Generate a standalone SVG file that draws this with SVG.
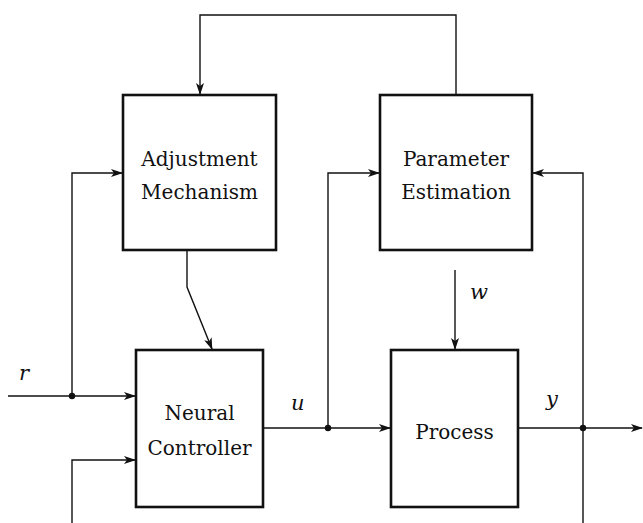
<svg xmlns="http://www.w3.org/2000/svg" width="643" height="523" viewBox="0 0 643 523">
<style>
.box{fill:#fff;stroke:#111;stroke-width:2.6}
.ln{fill:none;stroke:#111;stroke-width:1.4}
.t{font-family:'DejaVu Serif',serif;font-size:20px;fill:#111;text-anchor:middle}
.v{font-family:'DejaVu Serif',serif;font-size:21px;font-style:italic;fill:#111}
</style>
<defs>
<marker id="ah" viewBox="0 0 12 8" refX="11" refY="4" markerWidth="12" markerHeight="8" markerUnits="userSpaceOnUse" orient="auto">
<path d="M0,0 L12,4 L0,8 L3,4 Z" fill="#111"/>
</marker>
</defs>
<rect width="643" height="523" fill="#fff"/>
<g id="connectors">
<path class="ln" d="M456,95 V15 H200 V94" marker-end="url(#ah)"/>
<path class="ln" d="M187,250 V287 L212,349" marker-end="url(#ah)"/>
<path class="ln" d="M8,396 H135" marker-end="url(#ah)"/>
<path class="ln" d="M72,396 V173 H122" marker-end="url(#ah)"/>
<path class="ln" d="M72,523 V460 H135" marker-end="url(#ah)"/>
<path class="ln" d="M263,428 H390" marker-end="url(#ah)"/>
<path class="ln" d="M328,428 V173 H379" marker-end="url(#ah)"/>
<path class="ln" d="M455,270 V349" marker-end="url(#ah)"/>
<path class="ln" d="M518,428 H642" marker-end="url(#ah)"/>
<path class="ln" d="M583,523 V173 H533" marker-end="url(#ah)"/>
<circle cx="72" cy="396" r="3.2" fill="#111"/>
<circle cx="328" cy="428" r="3.2" fill="#111"/>
<circle cx="583" cy="428" r="3.2" fill="#111"/>
</g>
<g id="adjustment">
<rect class="box" x="123" y="95" width="153" height="155"/>
<text class="t" x="199.5" y="166">Adjustment</text>
<text class="t" x="199.5" y="199">Mechanism</text>
</g>
<g id="parameter">
<rect class="box" x="380" y="95" width="152" height="155"/>
<text class="t" x="456" y="166">Parameter</text>
<text class="t" x="456" y="199">Estimation</text>
</g>
<g id="controller">
<rect class="box" x="136" y="350" width="127" height="157"/>
<text class="t" x="199.5" y="420">Neural</text>
<text class="t" x="199.5" y="455">Controller</text>
</g>
<g id="process">
<rect class="box" x="391" y="350" width="127" height="157"/>
<text class="t" x="454.5" y="439">Process</text>
</g>
<g id="labels">
<text class="v" x="19" y="380">r</text>
<text class="v" x="291" y="410">u</text>
<text class="v" x="470" y="299">w</text>
<text class="v" x="546" y="406">y</text>
</g>
</svg>
